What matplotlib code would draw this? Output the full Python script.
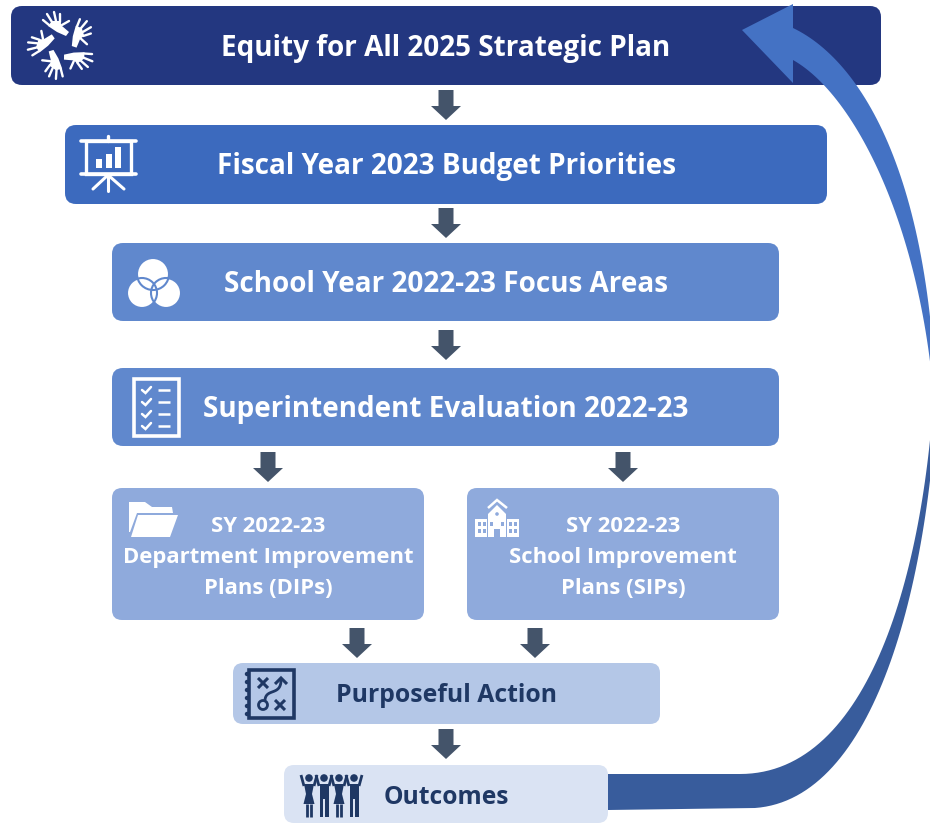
import numpy as np
import matplotlib.pyplot as plt
from matplotlib.patches import FancyBboxPatch, Polygon, Circle, Rectangle

# text of the boxes
plan_label = 'Equity for All 2025 Strategic Plan'
budget_label = 'Fiscal Year 2023 Budget Priorities'
focus_label = 'School Year 2022-23 Focus Areas'
eval_label = 'Superintendent Evaluation 2022-23'
dip_lines = ['SY 2022-23', 'Department Improvement', 'Plans (DIPs)']
sip_lines = ['SY 2022-23', 'School Improvement', 'Plans (SIPs)']
action_label = 'Purposeful Action'
outcomes_label = 'Outcomes'

NAVY = '#233780'
BLUE = '#3C6ABE'
MID = '#6088CD'
LIGHT = '#8FAADC'
PALE = '#B4C7E7'
PALEST = '#DAE3F3'
ARROW = '#44546A'
INK = '#1F3864'
FONT = 'Open Sans'

fig = plt.figure(figsize=(9.3, 8.23), dpi=100)
ax = fig.add_axes([0, 0, 1, 1])
ax.set_xlim(0, 930)
ax.set_ylim(823, 0)
ax.axis('off')


def box(x0, y0, x1, y1, color, r=11):
    ax.add_patch(FancyBboxPatch((x0 + r, y0 + r), x1 - x0 - 2*r, y1 - y0 - 2*r,
                                boxstyle='round,pad=%d,rounding_size=%d' % (r, r),
                                fc=color, ec='none', zorder=1))


def label(x, y, s, size=20.1, color='white'):
    ax.text(x, y, s, ha='center', va='center', fontsize=size, color=color,
            family=FONT, fontweight='bold', zorder=5)


def down_arrow(x, y):
    pts = [(x-7.5, y), (x+7.5, y), (x+7.5, y+16), (x+15, y+16), (x, y+30),
           (x-15, y+16), (x-7.5, y+16)]
    ax.add_patch(Polygon(pts, fc=ARROW, ec='none', zorder=2))


def line(pts, color='white', lw=2.0, z=4, cap='round'):
    pts = np.array(pts, dtype=float)
    ax.plot(pts[:, 0], pts[:, 1], color=color, lw=lw, zorder=z,
            solid_capstyle=cap, solid_joinstyle='miter')


def bez(p0, p1, p2, p3, n=60):
    t = np.linspace(0, 1, n)[:, None]
    p0, p1, p2, p3 = [np.array(p, dtype=float) for p in (p0, p1, p2, p3)]
    return (1-t)**3*p0 + 3*(1-t)**2*t*p1 + 3*(1-t)*t**2*p2 + t**3*p3


# boxes
box(11, 6, 881, 85, NAVY)
box(65, 125, 827, 204, BLUE)
box(112, 243, 779, 321, MID)
box(112, 368, 779, 446, MID)
box(112, 488, 424, 620, LIGHT, r=10)
box(467, 488, 779, 620, LIGHT, r=10)
box(233, 663, 660, 724, PALE, r=10)
box(284, 765, 608, 823, PALEST, r=10)

# small arrows between boxes
for ax_x, ax_y in [(446, 90), (446, 208), (446, 330), (268, 452), (623, 452),
                   (357, 628), (535, 628), (446, 729)]:
    down_arrow(ax_x, ax_y)

# big return arrow, lower darker part
low_top = np.vstack([[(608, 774)], bez((740, 774), (860, 774), (915, 600), (931, 430))])
low_bot = np.vstack([[(608, 810)], bez((755, 808), (865, 800), (920, 620), (935, 430))])
ax.add_patch(Polygon(np.vstack([low_top, low_bot[::-1]]), fc='#385C9C', ec='none', zorder=3))

# upper lighter part with the head
up_out = bez((793, 28), (860, 60), (928, 170), (936, 400))
up_in = bez((793, 60), (855, 95), (920, 225), (934, 400))
head = [(793, 83), (742, 30), (793, 4)]
ax.add_patch(Polygon(np.vstack([up_out, up_in[::-1], head]), fc='#4472C4', ec='none', zorder=3))

# hands icon, one hand turned five times round the middle
palm = [(-14, -19), (-10, -24), (-2, -24), (0, -19), (7, -13), (4, -9), (-5, -13)]
fingers = [((-13, -20), (-19, -25)), ((-10, -23), (-15, -31)), ((-6, -24), (-8, -33)),
           ((-2, -23), (-2, -31)), ((0, -20), (7, -24))]
for k in range(5):
    t = np.radians(72*k)
    rot = np.array([[np.cos(t), -np.sin(t)], [np.sin(t), np.cos(t)]])
    ax.add_patch(Polygon(rot.dot(np.array(palm, dtype=float).T).T + [62, 45],
                         fc='white', ec='none', zorder=4))
    for f in fingers:
        line(rot.dot(np.array(f, dtype=float).T).T + [62, 45], lw=1.7)

# presentation board icon
line([(81, 141), (136, 141)], lw=2.6)
line([(108, 136), (108, 141)], lw=2.4)
ax.add_patch(Rectangle((85.5, 141), 45, 33, fc='none', ec='white', lw=2.4, zorder=4))
line([(81, 174), (136, 174)], lw=2.6)
line([(108, 175), (93, 189)], lw=2.2)
line([(108, 175), (108, 191)], lw=2.2)
line([(108, 175), (124, 189)], lw=2.2)
for bx, by in [(96, 159), (106, 154), (115, 147)]:
    ax.add_patch(Rectangle((bx, by), 5.5, 168 - by, fc='white', ec='none', zorder=4))

# venn icon
for cx, cy, r in [(153, 274, 16), (142, 293, 15), (166, 293, 15)]:
    ax.add_patch(Circle((cx, cy), r, fc='white', ec='none', zorder=4))
for cx, cy, r in [(153, 274, 16), (142, 293, 15), (166, 293, 15)]:
    ax.add_patch(Circle((cx, cy), r, fc='none', ec=MID, lw=1.5, zorder=4))

# checklist icon
ax.add_patch(Rectangle((134, 379), 45, 57, fc='none', ec='white', lw=2.6, zorder=4))
for cy in [390, 402, 414, 426]:
    line([(142, cy), (145.5, cy + 3), (151, cy - 3)], lw=1.8)
    line([(158, cy), (170, cy)], lw=1.8, cap='butt')

# folder icon
ax.add_patch(Polygon([(129, 502), (145, 502), (152, 507), (172, 507), (173, 513),
                      (137, 513), (130, 532), (129, 532)], fc='white', ec='none', zorder=4))
ax.add_patch(Polygon([(138, 515), (178, 515), (170, 537), (131, 537)],
                     fc='white', ec='none', zorder=4))

# school icon
line([(488, 508), (497, 500), (507, 508)], lw=1.8, cap='butt')
ax.add_patch(Polygon([(488, 514), (497, 505), (506, 514), (506, 537), (488, 537)],
                     fc='white', ec='none', zorder=4))
ax.add_patch(Rectangle((475, 519), 12, 18, fc='white', ec='none', zorder=4))
ax.add_patch(Rectangle((507, 519), 12, 18, fc='white', ec='none', zorder=4))
for wx in [477.5, 482.5, 509, 514]:
    for wy in [522, 529]:
        ax.add_patch(Rectangle((wx, wy), 3.2, 4.2, fc=LIGHT, ec='none', zorder=4))
for wx in [490, 501]:
    ax.add_patch(Rectangle((wx, 522), 3, 4, fc=LIGHT, ec='none', zorder=4))
ax.add_patch(Rectangle((494, 529), 6, 8, fc=LIGHT, ec='none', zorder=4))
ax.add_patch(Circle((497, 514), 1.8, fc=LIGHT, ec='none', zorder=4))

# tactics icon
ax.add_patch(Rectangle((249, 670), 45, 48, fc='none', ec=INK, lw=2.6, zorder=4))
for cy in np.linspace(674, 714, 6):
    ax.add_patch(Circle((247, cy), 2.2, fc=INK, ec='none', zorder=4))
for cx, cy in [(263, 683), (280, 705)]:
    line([(cx-5, cy-5), (cx+5, cy+5)], color=INK, lw=2.2, cap='butt')
    line([(cx-5, cy+5), (cx+5, cy-5)], color=INK, lw=2.2, cap='butt')
ax.add_patch(Circle((263, 705), 4.5, fc='none', ec=INK, lw=2.0, zorder=4))
line(bez((265, 700), (266, 688), (281, 696), (281, 680)), color=INK, lw=2.0, cap='butt')
line([(275, 684), (281, 678), (287, 684)], color=INK, lw=2.2, cap='butt')

# people icon
for i, px in enumerate([309, 324, 339, 354]):
    ax.add_patch(Circle((px, 778), 3.8, fc=INK, ec='none', zorder=4))
    line([(px-8, 775), (px-5, 786)], color=INK, lw=2.0, cap='butt')
    line([(px+8, 775), (px+5, 786)], color=INK, lw=2.0, cap='butt')
    if i % 2 == 0:
        ax.add_patch(Polygon([(px-5, 784), (px+5, 784), (px+3, 794), (px+5.5, 804), (px-5.5, 804),
                              (px-3, 794)], fc=INK, ec='none', zorder=4))
        line([(px-2, 804), (px-2, 817)], color=INK, lw=2.0, cap='butt')
        line([(px+2, 804), (px+2, 817)], color=INK, lw=2.0, cap='butt')
    else:
        ax.add_patch(Rectangle((px-4.5, 784), 9, 15, fc=INK, ec='none', zorder=4))
        ax.add_patch(Rectangle((px-4.5, 799), 3.6, 18, fc=INK, ec='none', zorder=4))
        ax.add_patch(Rectangle((px+0.9, 799), 3.6, 18, fc=INK, ec='none', zorder=4))

# text
label(446, 48, plan_label)
label(446, 166, budget_label)
label(446, 285, focus_label)
label(446, 409, eval_label)
for y, a, b in zip([526, 558, 589], dip_lines, sip_lines):
    label(268, y, a, size=15.8)
    label(623, y, b, size=15.8)
label(446, 695, action_label, size=17.8, color=INK)
label(446, 798, outcomes_label, size=17.7, color=INK)

fig.savefig('out.png', dpi=100, facecolor='white')
